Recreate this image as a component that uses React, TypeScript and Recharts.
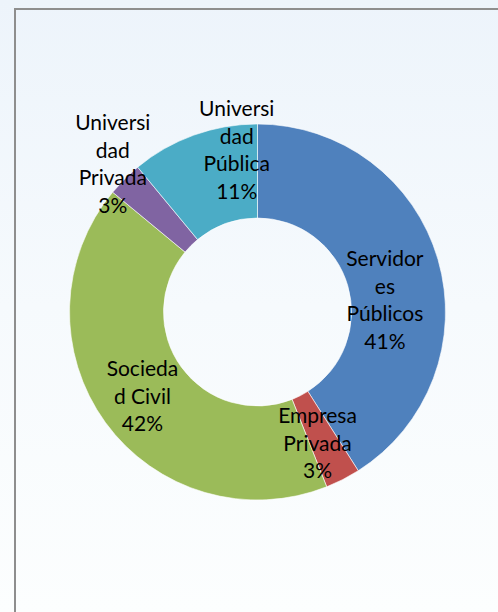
import { Cell, Pie, PieChart } from "recharts";

const categories = [
  "Servidores Públicos",
  "Empresa Privada",
  "Sociedad Civil",
  "Universidad Privada",
  "Universidad Pública",
];
const shares = [41, 3, 42, 3, 11];
// wrapped label text as it appears in the picture
const labelLines = [
  ["Servidor", "es", "Públicos"],
  ["Empresa", "Privada"],
  ["Socieda", "d Civil"],
  ["Universi", "dad", "Privada"],
  ["Universi", "dad", "Pública"],
];

const colors = ["#4f81bd", "#c0504d", "#9bbb59", "#8064a2", "#4bacc6"];
// label offsets from mid-ring point, px
const nudge = [
  [-8, 26],
  [-4, 4],
  [-1, 0],
  [-45, -50],
  [27, -31],
];

const RAD = Math.PI / 180;
const LINE_H = 27.5;

const data = categories.map((name, i) => ({ name, value: shares[i] }));

function renderLabel(props: any) {
  const { cx, cy, midAngle, innerRadius, outerRadius, index, value } = props;
  const r = (innerRadius + outerRadius) / 2;
  const x = cx + r * Math.cos(-midAngle * RAD) + nudge[index][0];
  const y = cy + r * Math.sin(-midAngle * RAD) + nudge[index][1];
  const lines = [...labelLines[index], `${value}%`];
  const top = y - ((lines.length - 1) * LINE_H) / 2;
  return (
    <text
      x={x}
      y={top}
      textAnchor="middle"
      dominantBaseline="central"
      fill="#000000"
      fontSize={21}
      fontFamily="Lato, sans-serif"
    >
      {lines.map((t, k) => (
        <tspan key={k} x={x} y={top + k * LINE_H}>
          {t}
        </tspan>
      ))}
    </text>
  );
}

export default function App() {
  return (
    <div
      style={{
        position: "absolute",
        left: 0,
        top: 0,
        width: 498,
        height: 612,
        overflow: "hidden",
        background: "linear-gradient(180deg, #edf4fb 0%, #f6fafd 50%, #fcfefe 100%)",
      }}
    >
      <div
        style={{
          position: "absolute",
          left: 14,
          top: 8,
          width: 500,
          height: 620,
          border: "2px solid #8e8e8e",
          boxSizing: "border-box",
        }}
      />
      <div style={{ position: "absolute", left: 0, top: 0 }}>
        <PieChart width={498} height={612} margin={{ top: 0, right: 0, bottom: 0, left: 0 }}>
          <Pie
            data={data}
            dataKey="value"
            nameKey="name"
            cx={257.5}
            cy={312}
            innerRadius={94}
            outerRadius={188}
            startAngle={90}
            endAngle={-270}
            stroke="#ffffff"
            strokeWidth={0.6}
            label={renderLabel}
            labelLine={false}
            isAnimationActive={false}
          >
            {data.map((d, i) => (
              <Cell key={d.name} fill={colors[i]} />
            ))}
          </Pie>
        </PieChart>
      </div>
    </div>
  );
}
